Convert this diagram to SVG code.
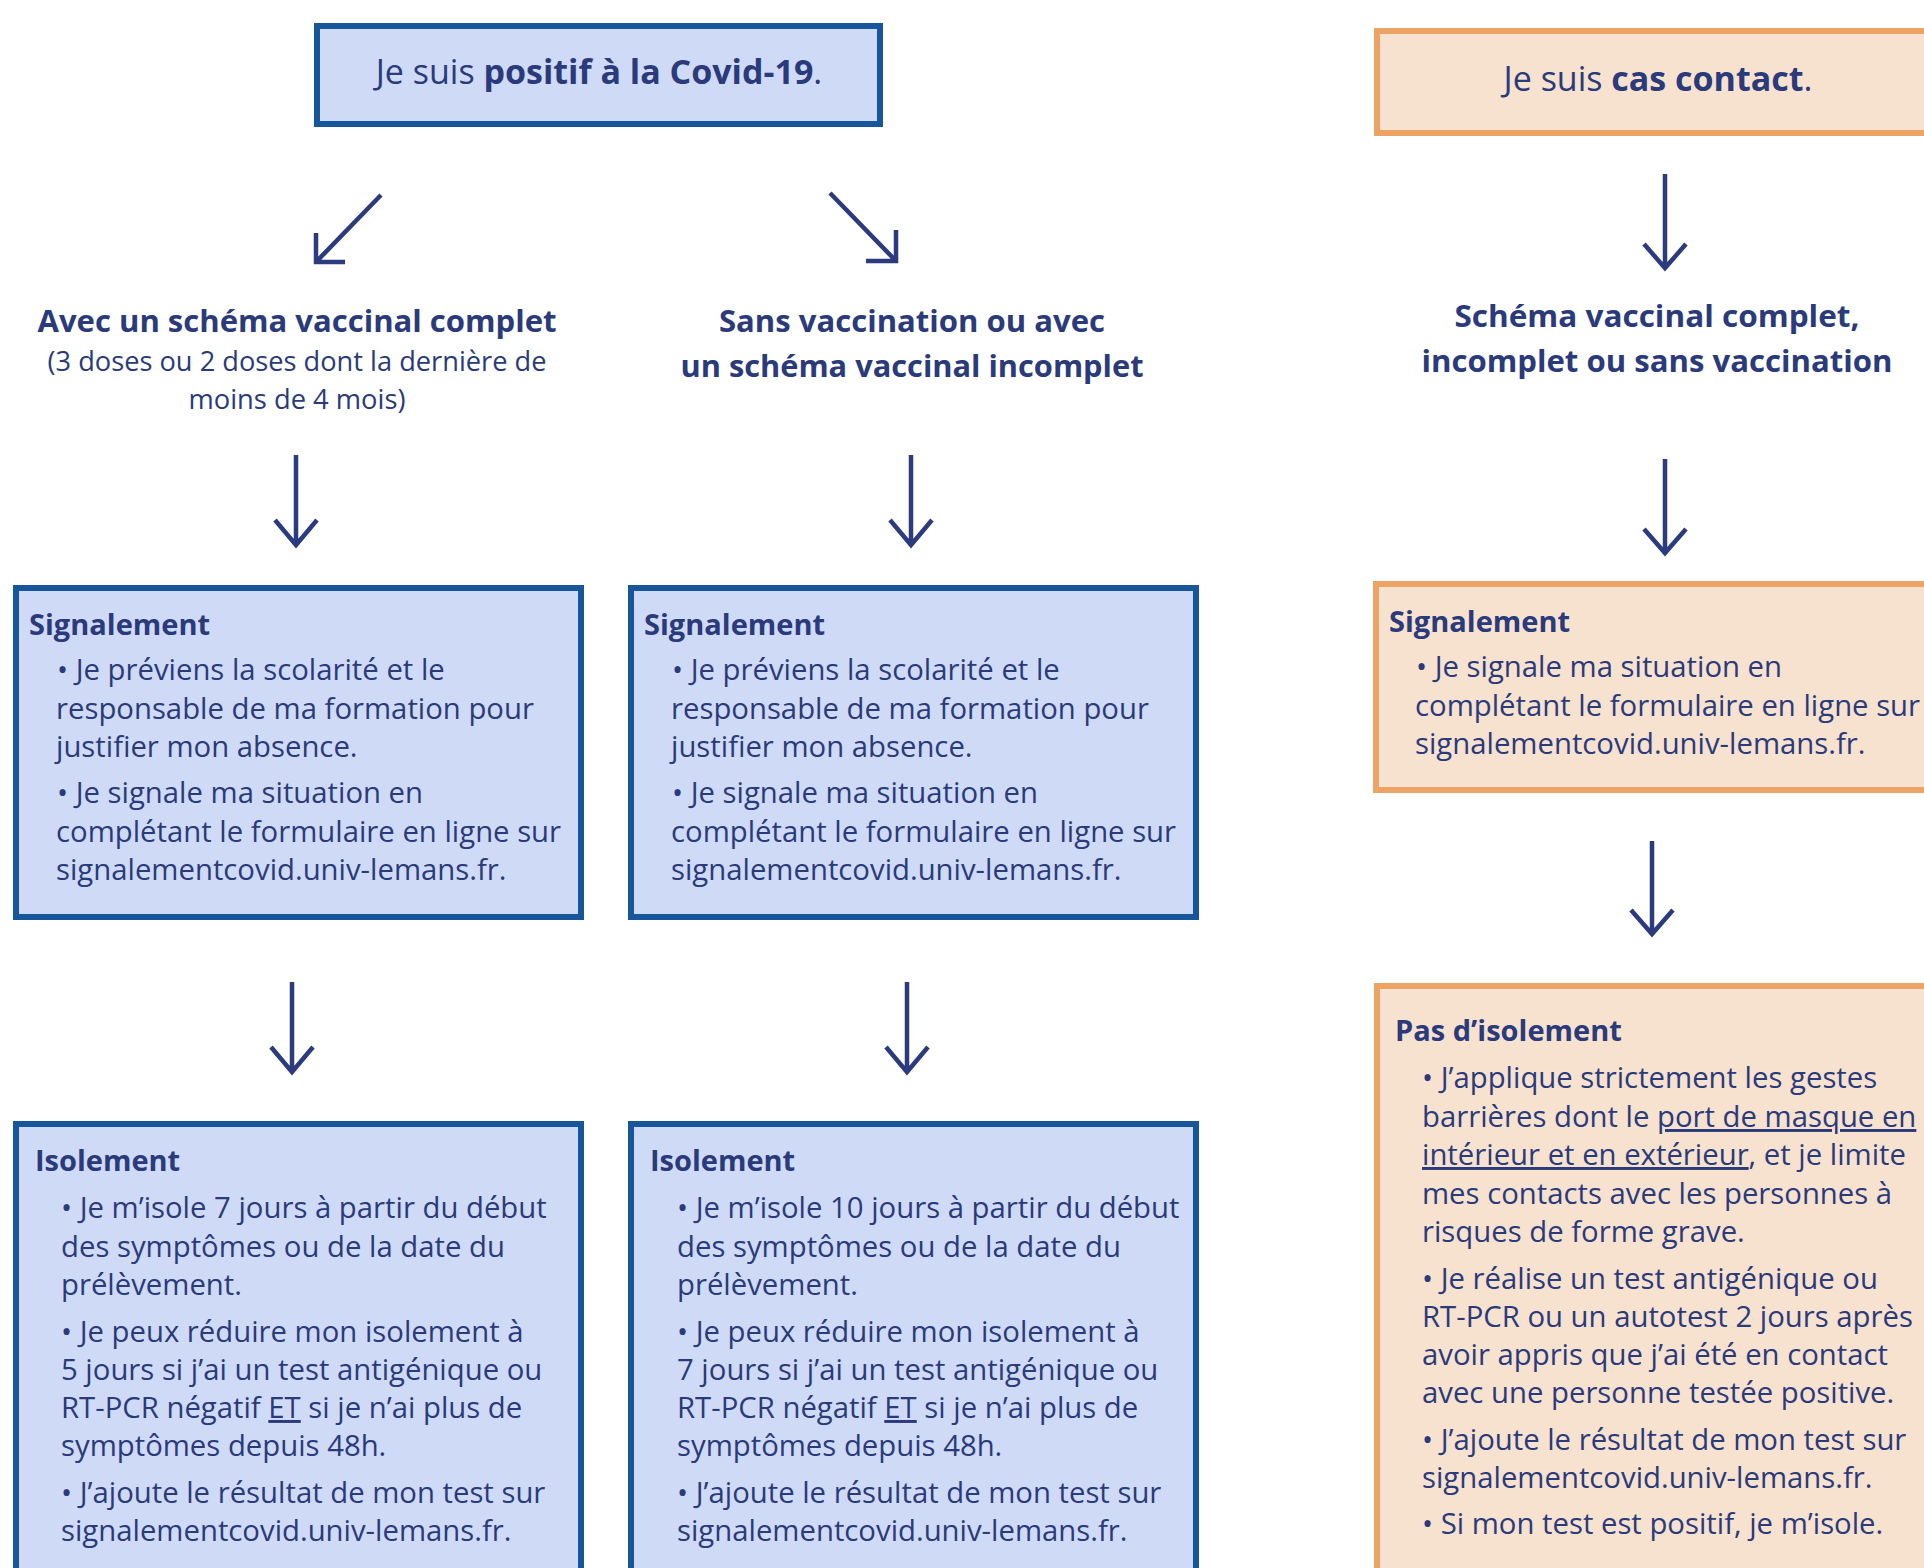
<svg xmlns="http://www.w3.org/2000/svg" width="1924" height="1568" viewBox="0 0 1924 1568">
<style>
  .bg { fill: #ffffff; }
  .bbox { fill: #CFDAF7; stroke: #17569B; stroke-width: 6; }
  .obox { fill: #F7E2CF; stroke: #EBA466; stroke-width: 6; }
  text { font-family: "Open Sans", "Noto Sans", "Liberation Sans", sans-serif; fill: #2A3A7A; }
  .head { font-size: 34px; }
  .title { font-size: 31px; font-weight: 700; }
  .sub { font-size: 28px; }
  .h { font-size: 29px; font-weight: 700; }
  .body { font-size: 29.3px; }
  .b { font-weight: 700; }
  .u { text-decoration: underline; }
  .arrow { fill: none; stroke: #2B3B7D; stroke-width: 4.5; stroke-linecap: butt; stroke-linejoin: miter; }
</style>
<rect class="bg" x="0" y="0" width="1924" height="1568"/>

<g id="connectors">
  <path class="arrow" d="M381,195 L316,262 M316,233 L316,262 L345,262"/>
  <path class="arrow" d="M830,193 L896,261 M896,230 L896,261 L866,261"/>
  <path class="arrow" d="M296,455 L296,545 M275,520 L296,545 L317,520"/>
  <path class="arrow" d="M911,455 L911,545 M890,520 L911,545 L932,520"/>
  <path class="arrow" d="M292,982 L292,1072 M271,1047 L292,1072 L313,1047"/>
  <path class="arrow" d="M907,982 L907,1072 M886,1047 L907,1072 L928,1047"/>
  <path class="arrow" d="M1665,174 L1665,268 M1644,244 L1665,268 L1686,244"/>
  <path class="arrow" d="M1665,459 L1665,553 M1644,529 L1665,553 L1686,529"/>
  <path class="arrow" d="M1652,841 L1652,934 M1631,910 L1652,934 L1673,910"/>
</g>

<g id="n-positive">
  <rect class="bbox" x="317" y="26" width="563" height="98"/>
  <text class="head" x="599" y="84" text-anchor="middle">Je suis <tspan class="b">positif à la Covid-19</tspan>.</text>
</g>

<g id="n-contact">
  <rect class="obox" x="1377" y="31" width="600" height="102"/>
  <text class="head" x="1658" y="91" text-anchor="middle">Je suis <tspan class="b">cas contact</tspan>.</text>
</g>

<g id="n-avec">
  <text class="title" x="297" y="332" text-anchor="middle" textLength="519" lengthAdjust="spacingAndGlyphs">Avec un schéma vaccinal complet</text>
  <text class="sub" x="297" y="371" text-anchor="middle" textLength="499" lengthAdjust="spacingAndGlyphs">(3 doses ou 2 doses dont la dernière de</text>
  <text class="sub" x="297" y="409" text-anchor="middle" textLength="217" lengthAdjust="spacingAndGlyphs">moins de 4 mois)</text>
</g>

<g id="n-sans">
  <text class="title" x="912" y="332" text-anchor="middle" textLength="386" lengthAdjust="spacingAndGlyphs">Sans vaccination ou avec</text>
  <text class="title" x="912" y="377" text-anchor="middle" textLength="463" lengthAdjust="spacingAndGlyphs">un schéma vaccinal incomplet</text>
</g>

<g id="n-schema">
  <text class="title" x="1657" y="327" text-anchor="middle" textLength="405" lengthAdjust="spacingAndGlyphs">Schéma vaccinal complet,</text>
  <text class="title" x="1657" y="372" text-anchor="middle" textLength="471" lengthAdjust="spacingAndGlyphs">incomplet ou sans vaccination</text>
</g>

<g id="n-sig-left">
  <rect class="bbox" x="16" y="588" width="565" height="329"/>
  <text class="h" x="29" y="635">Signalement</text>
  <text class="body">
    <tspan x="57" y="680">• Je préviens la scolarité et le</tspan>
    <tspan x="56" y="719">responsable de ma formation pour</tspan>
    <tspan x="56" y="757">justifier mon absence.</tspan>
    <tspan x="57" y="803">• Je signale ma situation en</tspan>
    <tspan x="56" y="842">complétant le formulaire en ligne sur</tspan>
    <tspan x="56" y="880">signalementcovid.univ-lemans.fr.</tspan>
  </text>
</g>

<g id="n-sig-mid">
  <rect class="bbox" x="631" y="588" width="565" height="329"/>
  <text class="h" x="644" y="635">Signalement</text>
  <text class="body">
    <tspan x="672" y="680">• Je préviens la scolarité et le</tspan>
    <tspan x="671" y="719">responsable de ma formation pour</tspan>
    <tspan x="671" y="757">justifier mon absence.</tspan>
    <tspan x="672" y="803">• Je signale ma situation en</tspan>
    <tspan x="671" y="842">complétant le formulaire en ligne sur</tspan>
    <tspan x="671" y="880">signalementcovid.univ-lemans.fr.</tspan>
  </text>
</g>

<g id="n-sig-right">
  <rect class="obox" x="1376" y="584" width="600" height="206"/>
  <text class="h" x="1389" y="632">Signalement</text>
  <text class="body">
    <tspan x="1416" y="677">• Je signale ma situation en</tspan>
    <tspan x="1415" y="716">complétant le formulaire en ligne sur</tspan>
    <tspan x="1415" y="754">signalementcovid.univ-lemans.fr.</tspan>
  </text>
</g>

<g id="n-iso-left">
  <rect class="bbox" x="16" y="1124" width="565" height="500"/>
  <text class="h" x="35" y="1171">Isolement</text>
  <text class="body">
    <tspan x="61" y="1218">• Je m’isole 7 jours à partir du début</tspan>
    <tspan x="61" y="1257">des symptômes ou de la date du</tspan>
    <tspan x="61" y="1295">prélèvement.</tspan>
    <tspan x="61" y="1342">• Je peux réduire mon isolement à</tspan>
    <tspan x="61" y="1380">5 jours si j’ai un test antigénique ou</tspan>
    <tspan x="61" y="1418">RT-PCR négatif <tspan class="u">ET</tspan> si je n’ai plus de</tspan>
    <tspan x="61" y="1456">symptômes depuis 48h.</tspan>
    <tspan x="61" y="1503">• J’ajoute le résultat de mon test sur</tspan>
    <tspan x="61" y="1541">signalementcovid.univ-lemans.fr.</tspan>
  </text>
</g>

<g id="n-iso-mid">
  <rect class="bbox" x="631" y="1124" width="565" height="500"/>
  <text class="h" x="650" y="1171">Isolement</text>
  <text class="body">
    <tspan x="677" y="1218">• Je m’isole 10 jours à partir du début</tspan>
    <tspan x="677" y="1257">des symptômes ou de la date du</tspan>
    <tspan x="677" y="1295">prélèvement.</tspan>
    <tspan x="677" y="1342">• Je peux réduire mon isolement à</tspan>
    <tspan x="677" y="1380">7 jours si j’ai un test antigénique ou</tspan>
    <tspan x="677" y="1418">RT-PCR négatif <tspan class="u">ET</tspan> si je n’ai plus de</tspan>
    <tspan x="677" y="1456">symptômes depuis 48h.</tspan>
    <tspan x="677" y="1503">• J’ajoute le résultat de mon test sur</tspan>
    <tspan x="677" y="1541">signalementcovid.univ-lemans.fr.</tspan>
  </text>
</g>

<g id="n-pas-iso">
  <rect class="obox" x="1377" y="986" width="600" height="640"/>
  <text class="h" x="1395" y="1041">Pas d’isolement</text>
  <text class="body">
    <tspan x="1422" y="1088">• J’applique strictement les gestes</tspan>
    <tspan x="1422" y="1127">barrières dont le <tspan class="u">port de masque en</tspan></tspan>
    <tspan x="1422" y="1165"><tspan class="u">intérieur et en extérieur</tspan>, et je limite</tspan>
    <tspan x="1422" y="1204">mes contacts avec les personnes à</tspan>
    <tspan x="1422" y="1242">risques de forme grave.</tspan>
    <tspan x="1422" y="1289">• Je réalise un test antigénique ou</tspan>
    <tspan x="1422" y="1327">RT-PCR ou un autotest 2 jours après</tspan>
    <tspan x="1422" y="1365">avoir appris que j’ai été en contact</tspan>
    <tspan x="1422" y="1403">avec une personne testée positive.</tspan>
    <tspan x="1422" y="1450">• J’ajoute le résultat de mon test sur</tspan>
    <tspan x="1422" y="1488">signalementcovid.univ-lemans.fr.</tspan>
    <tspan x="1422" y="1534">• Si mon test est positif, je m’isole.</tspan>
  </text>
</g>
</svg>
